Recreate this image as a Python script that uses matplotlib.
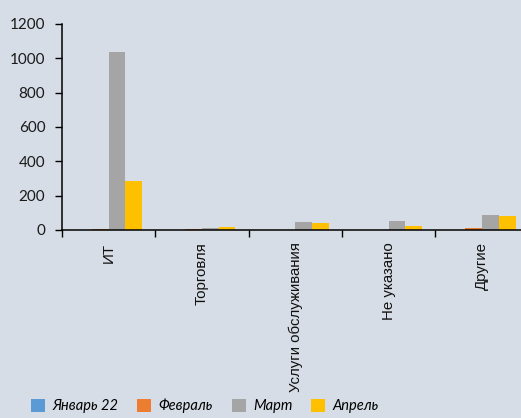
import matplotlib
matplotlib.use("Agg")
import matplotlib.pyplot as plt
import numpy as np
from matplotlib.patches import Patch

categories = ["ИТ", "Торговля", "Услуги обслуживания", "Не указано", "Другие"]
series_names = ["Январь 22", "Февраль", "Март", "Апрель"]
jan = [1, 1, 1, 1, 2]
feb = [4, 3, 1, 1, 12]
mar = [1035, 12, 47, 52, 87]
apr = [283, 17, 39, 21, 82]
colors = ["#5B9BD5", "#ED7D31", "#A5A5A5", "#FFC000"]
y_ticks = [0, 200, 400, 600, 800, 1000, 1200]

bg = "#D6DDE6"
fig = plt.figure(figsize=(5.21, 4.18), dpi=100, facecolor=bg)
ax = fig.add_axes([0.119, 0.4498, 0.896, 0.4928])
ax.set_facecolor(bg)

x = np.arange(len(categories))
w = 0.179
for i, (vals, c) in enumerate(zip([jan, feb, mar, apr], colors)):
    ax.bar(x + (i - 1.5) * w, vals, width=w, color=c, label=series_names[i], zorder=2)

ax.set_xlim(-0.5, len(categories) - 0.5)
ax.set_ylim(0, 1200)
ax.set_yticks(y_ticks)
ax.set_yticklabels([str(v) for v in y_ticks], fontfamily="Lato", fontsize=11, color="#1a1a1a")

ax.set_xticks(x)
ax.set_xticklabels(categories, rotation=90, fontfamily="Liberation Sans", fontsize=10.8,
                   color="#111111", va="top")
ax.set_xticks(np.arange(len(categories) + 1) - 0.5, minor=True)
ax.tick_params(axis="x", which="major", length=0, pad=9)
ax.tick_params(axis="x", which="minor", length=5, width=1, color="black", direction="out")
ax.tick_params(axis="y", length=5, width=1, color="black", direction="out", pad=7)

for s in ["top", "right"]:
    ax.spines[s].set_visible(False)
ax.spines["left"].set_color("black")
ax.spines["bottom"].set_color("black")
ax.spines["left"].set_linewidth(1.1)
ax.spines["bottom"].set_linewidth(1.1)

handles = [Patch(facecolor=c, edgecolor="none") for c in colors]
leg = fig.legend(handles, series_names, loc="lower left", bbox_to_anchor=(0.035, -0.02),
                 ncol=4, frameon=False, handlelength=0.95, handleheight=0.95,
                 handletextpad=0.5, columnspacing=1.3,
                 prop={"family": "Lato", "style": "italic", "size": 10.5})

fig.savefig("out.png", dpi=100, facecolor=bg)
